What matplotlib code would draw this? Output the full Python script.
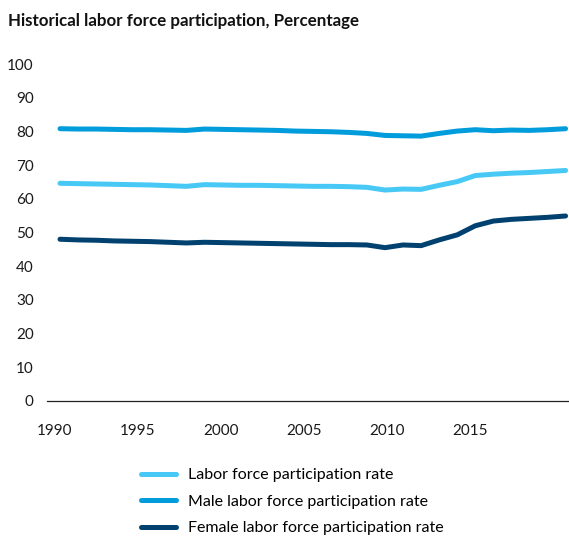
import numpy as np
import matplotlib
matplotlib.use('Agg')
import matplotlib.pyplot as plt

plt.rcParams['font.family'] = ['Lato', 'DejaVu Sans']

# Data
years = list(range(1990, 2019))
total_rate = [64.6, 64.5, 64.4, 64.3, 64.2, 64.1, 63.9, 63.7, 64.2, 64.1,
              64.0, 64.0, 63.9, 63.8, 63.7, 63.7, 63.6, 63.4, 62.6, 62.9,
              62.8, 64.0, 65.1, 66.9, 67.3, 67.6, 67.8, 68.1, 68.4]
male_rate = [80.8, 80.7, 80.7, 80.6, 80.5, 80.5, 80.4, 80.3, 80.7, 80.6,
             80.5, 80.4, 80.3, 80.1, 80.0, 79.9, 79.7, 79.4, 78.8, 78.7,
             78.6, 79.4, 80.1, 80.5, 80.2, 80.4, 80.3, 80.5, 80.8]
female_rate = [48.0, 47.8, 47.7, 47.5, 47.4, 47.3, 47.1, 46.9, 47.1, 47.0,
               46.9, 46.8, 46.7, 46.6, 46.5, 46.4, 46.4, 46.3, 45.5, 46.3,
               46.1, 47.8, 49.3, 52.0, 53.4, 53.9, 54.2, 54.5, 54.9]
series_labels = ['Labor force participation rate',
                 'Male labor force participation rate',
                 'Female labor force participation rate']
colors = ['#48C8F5', '#009CDB', '#00416F']

x_tick_labels = ['1990', '1995', '2000', '2005', '2010', '2015']
y_ticks = list(range(0, 101, 10))

fig = plt.figure(figsize=(5.69, 5.38), dpi=100)
ax = fig.add_axes([47 / 569, 1 - 401 / 538, 1 - 47 / 569, (401 - 64) / 538])

for vals, lab, c in zip([total_rate, male_rate, female_rate], series_labels, colors):
    ax.plot(years, vals, color=c, lw=3.6, label=lab,
            solid_capstyle='round', solid_joinstyle='round')

ax.set_ylim(0, 100)
ax.set_xlim(1989.28, 2018.19)
ax.set_yticks(y_ticks)
# category-style tick labels, spaced as in the original
tick_pos = 1989.72 + 4.6 * np.arange(len(x_tick_labels))
ax.set_xticks(tick_pos)
ax.set_xticklabels(x_tick_labels)

for s in ['top', 'right', 'left']:
    ax.spines[s].set_visible(False)
ax.spines['bottom'].set_color('#222222')
ax.spines['bottom'].set_linewidth(0.9)
ax.tick_params(axis='both', length=0, labelsize=11, colors='#1a1a1a')
ax.tick_params(axis='y', pad=9.5)
ax.tick_params(axis='x', pad=16.5)

fig.text(8 / 569, 1 - 26 / 538, 'Historical labor force participation, Percentage',
         fontsize=12.2, fontweight='bold', va='baseline', ha='left', color='#111111')

fig.legend(loc='upper left', bbox_to_anchor=(141 / 569, 1 - 468 / 538),
           frameon=False, borderpad=0, borderaxespad=0, fontsize=11.5,
           handlelength=2.2, handletextpad=0.75, labelspacing=0.78)

fig.savefig('out.png', dpi=100)
